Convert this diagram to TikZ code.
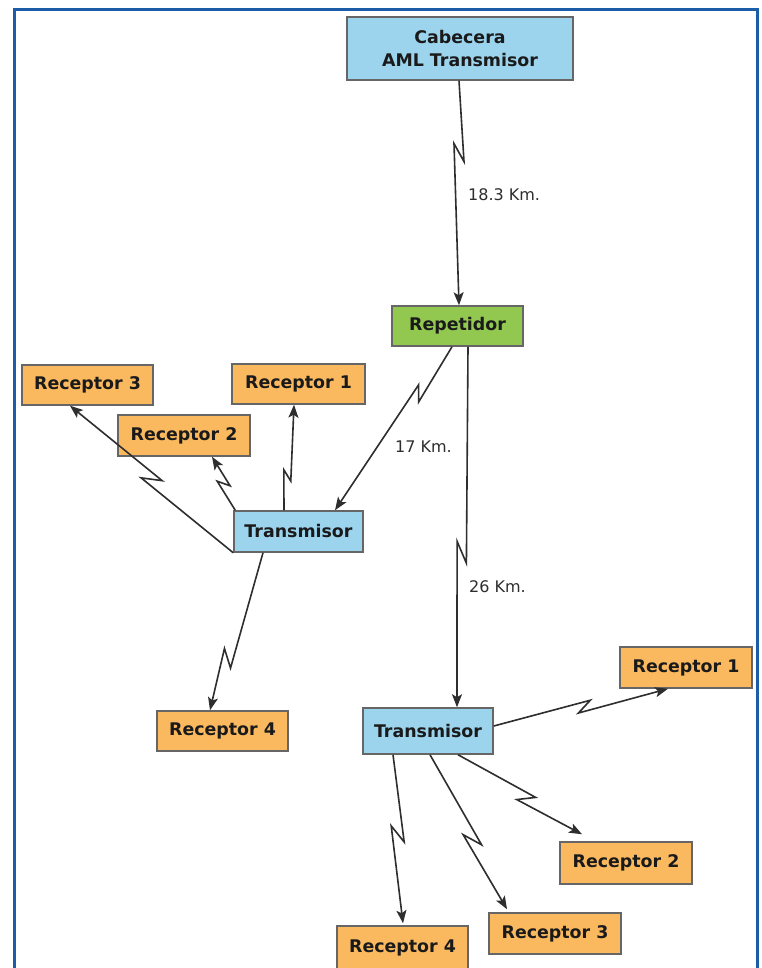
\documentclass[tikz,border=0pt]{standalone}
\usepackage{fontspec}
\setmainfont{DejaVu Sans}
\usetikzlibrary{calc,arrows.meta}
\definecolor{bluefill}{HTML}{9CD4EE}
\definecolor{greenfill}{HTML}{92C850}
\definecolor{orangefill}{HTML}{FAB95F}
\definecolor{boxline}{HTML}{666666}
\definecolor{linkc}{HTML}{2E2E2E}
\definecolor{framec}{HTML}{1B5EA7}
\definecolor{txt}{HTML}{1A1A1A}
\newcommand\bolt[5]{%
  \draw[conn] (#1) -- ($(#1)!#4!(#2)!#5!90:(#2)$) -- ($(#1)!#3!(#2)!#5!-90:(#2)$) -- (#2);}
\begin{document}
\begin{tikzpicture}[x=1pt,y=-1pt,
  box/.style={draw=boxline, line width=1.5pt, inner sep=0pt, text=txt,
    font=\bfseries\fontsize{17.4}{23}\selectfont, align=center},
  bluebox/.style={box, fill=bluefill},
  greenbox/.style={box, fill=greenfill},
  orangebox/.style={box, fill=orangefill},
  conn/.style={draw=linkc, line width=1.6pt, line join=miter,
    -{Stealth[length=13pt,width=10pt,inset=3pt]}},
  lbl/.style={text=linkc, font=\fontsize{16}{19}\selectfont, inner sep=0pt, anchor=west}]
\clip (0,0) rectangle (762,968);
\fill[white] (0,0) rectangle (762,968);
\draw[framec, line width=3pt] (14,980) -- (14,10) -- (757,10) -- (757,980);
% nodes
\node[bluebox, minimum width=226, minimum height=63] (cab) at (460,48.5) {Cabecera\\AML Transmisor};
\node[greenbox, minimum width=131, minimum height=40] (rep) at (457.5,326) {Repetidor};
\node[bluebox, minimum width=129, minimum height=41] (tl) at (298.5,531.5) {Transmisor};
\node[orangebox, minimum width=131, minimum height=40] (r3l) at (87.5,385) {Receptor 3};
\node[orangebox, minimum width=133, minimum height=40] (r1l) at (298.5,384) {Receptor 1};
\node[orangebox, minimum width=132, minimum height=41] (r2l) at (184,435.5) {Receptor 2};
\node[orangebox, minimum width=131, minimum height=40] (r4l) at (222.5,731) {Receptor 4};
\node[bluebox, minimum width=130, minimum height=46] (tr) at (428,731) {Transmisor};
\node[orangebox, minimum width=132, minimum height=41] (r1r) at (686,667.5) {Receptor 1};
\node[orangebox, minimum width=132, minimum height=42] (r2r) at (626,863) {Receptor 2};
\node[orangebox, minimum width=132, minimum height=41] (r3r) at (555,933.5) {Receptor 3};
\node[orangebox, minimum width=131, minimum height=44] (r4r) at (402.5,948) {Receptor 4};
% labels
\node[lbl] (l1) at (468,195) {18.3 Km.};
\node[lbl] (l2) at (395,447) {17 Km.};
\node[lbl] (l3) at (469,587) {26 Km.};
% endpoints
\coordinate (s1) at ($(cab.south)+(-1,0)$);
\coordinate (e1) at ($(rep.north)+(1.5,0)$);
\coordinate (s2) at ($(rep.south)+(-5.5,0)$);
\coordinate (e2) at ($(tl.north)+(36.5,0)$);
\coordinate (s3) at ($(rep.south)+(10.5,0)$);
\coordinate (e3) at ($(tr.north)+(29,0)$);
\coordinate (s4) at (tl.south west);
\coordinate (e4) at ($(r3l.south)+(-17.5,0)$);
\coordinate (s5) at ($(tl.north west)+(2,0)$);
\coordinate (e5) at ($(r2l.south)+(28,0)$);
\coordinate (s6) at ($(tl.north)+(-14.5,0)$);
\coordinate (e6) at ($(r1l.south)+(-4.5,0)$);
\coordinate (s7) at ($(tl.south)+(-35.5,0)$);
\coordinate (e7) at ($(r4l.north)+(-12.5,0)$);
\coordinate (s8) at ($(tr.east)+(0,-5)$);
\coordinate (e8) at ($(r1r.south)+(-18,0)$);
\coordinate (s9) at ($(tr.south)+(30,0)$);
\coordinate (e9) at ($(r2r.north)+(-44,-7)$);
\coordinate (s10) at ($(tr.south)+(2,0)$);
\coordinate (e10) at ($(r3r.north)+(-48,-3)$);
\coordinate (s11) at ($(tr.south)+(-35,0)$);
\coordinate (e11) at ($(r4r.north)+(0.5,-2)$);
% connectors
\bolt{s1}{e1}{0.28}{0.36}{5pt}
\bolt{s2}{e2}{0.25}{0.32}{5pt}
\bolt{s3}{e3}{0.54}{0.60}{5pt}
\bolt{s4}{e4}{0.46}{0.54}{6pt}
\bolt{s5}{e5}{0.42}{0.58}{5pt}
\bolt{s6}{e6}{0.28}{0.38}{4pt}
\bolt{s7}{e7}{0.62}{0.72}{6pt}
\bolt{s8}{e8}{0.48}{0.56}{5pt}
\bolt{s9}{e9}{0.50}{0.60}{6pt}
\bolt{s10}{e10}{0.50}{0.60}{6pt}
\bolt{s11}{e11}{0.42}{0.52}{6pt}
\end{tikzpicture}
\end{document}
